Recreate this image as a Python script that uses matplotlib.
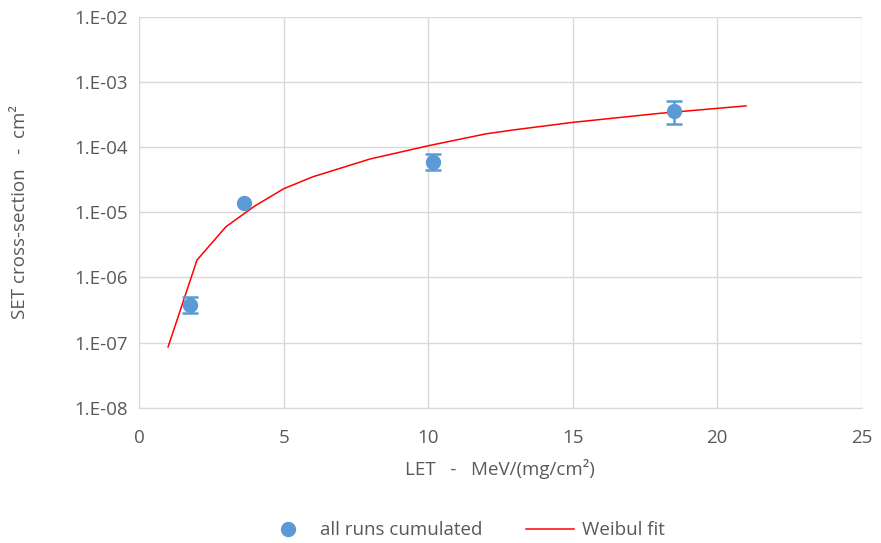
import numpy as np
import matplotlib.pyplot as plt
from matplotlib.ticker import FixedLocator, FixedFormatter, NullLocator

plt.rcParams['font.family'] = ['Open Sans', 'DejaVu Sans']

# measured cross-sections
let_meas = [1.76, 3.62, 10.17, 18.5]
sigma_meas = [3.8e-7, 1.4e-5, 6.0e-5, 3.6e-4]
err_low = [1.0e-7, 0.0, 1.5e-5, 1.3e-4]
err_high = [1.3e-7, 0.0, 1.8e-5, 1.5e-4]

# Weibull fit curve
let_fit = [1, 2, 3, 4, 5, 6, 8, 10, 12, 13, 15, 18, 21]
sigma_fit = [8.6e-8, 1.85e-6, 6.0e-6, 1.25e-5, 2.3e-5, 3.5e-5, 6.6e-5,
             1.05e-4, 1.6e-4, 1.85e-4, 2.4e-4, 3.3e-4, 4.3e-4]

decades = [-8, -7, -6, -5, -4, -3, -2]
ytick_labels = [f"1.E-{-d:02d}" for d in decades]

text_col = '#595959'
grid_col = '#d9d9d9'
blue = '#5b9bd5'
fs = 13.5

fig = plt.figure(figsize=(8.81, 5.43), dpi=100)
ax = fig.add_axes([0.158, 0.249, 0.820, 0.720])

fit_line, = ax.plot(let_fit, sigma_fit, color='#ff0000', lw=1.1, label='Weibul fit', zorder=3)

# error bars only where an uncertainty is given
x = np.array(let_meas)
y = np.array(sigma_meas)
lo = np.array(err_low)
hi = np.array(err_high)
has_err = (lo > 0) | (hi > 0)
ax.errorbar(x[has_err], y[has_err], yerr=[lo[has_err], hi[has_err]], fmt='none',
            ecolor=blue, elinewidth=1.8, capsize=6, capthick=1.8, zorder=4)
pts, = ax.plot(x, y, 'o', color=blue, ms=10, label='all runs cumulated', zorder=5)

ax.set_yscale('log')
ax.set_ylim(1e-8, 1e-2)
ax.set_xlim(0, 25)
ax.yaxis.set_major_locator(FixedLocator([10.0 ** d for d in decades]))
ax.yaxis.set_major_formatter(FixedFormatter(ytick_labels))
ax.yaxis.set_minor_locator(NullLocator())
ax.set_xticks([0, 5, 10, 15, 20, 25])

ax.grid(True, color=grid_col, lw=1.0)
ax.set_axisbelow(True)
for s in ax.spines.values():
    s.set_visible(False)
ax.spines['left'].set_visible(True)
ax.spines['bottom'].set_visible(True)
ax.spines['left'].set_color(grid_col)
ax.spines['bottom'].set_color(grid_col)
ax.tick_params(length=0, labelsize=fs, colors=text_col)
ax.tick_params(axis='y', pad=8)
ax.tick_params(axis='x', pad=15)

ax.set_xlabel('LET   -   MeV/(mg/cm²)', fontsize=fs, color=text_col, labelpad=9)
ax.set_ylabel('SET cross-section   -  cm²', fontsize=fs, color=text_col, labelpad=33)

fig.legend([pts, fit_line], ['all runs cumulated', 'Weibul fit'], loc='lower center',
           bbox_to_anchor=(0.527, -0.024), ncol=2, frameon=False, fontsize=fs,
           labelcolor=text_col, handlelength=2.6, columnspacing=2.3, handletextpad=0.4)

fig.savefig('out.png', dpi=100)
